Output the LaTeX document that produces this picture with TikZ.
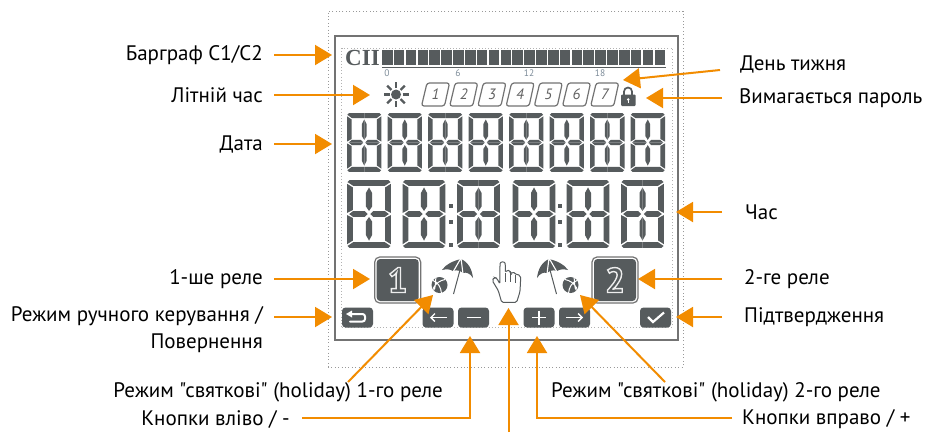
\documentclass[tikz,border=0pt]{standalone}
\usepackage{fontspec}
\setmainfont[Ligatures=TeXOff]{PT Sans}
\newfontfamily\ciifont{Liberation Serif}
\newfontfamily\relayfont[FakeBold=4]{PT Sans Bold}
\usetikzlibrary{arrows.meta,calc}
\definecolor{lcd}{HTML}{565B5D}
\definecolor{org}{HTML}{F28C00}
\definecolor{tick}{HTML}{7D8C99}
\tikzset{
  lab/.style={anchor=east,inner sep=0pt,text=black,font=\fontsize{21}{24}\selectfont},
  labr/.style={anchor=west,inner sep=0pt,text=black,font=\fontsize{21}{24}\selectfont},
  arr/.style={draw=org,line width=2pt,-{Triangle[length=17pt,width=20pt,fill=org]}},
  btn/.style={fill=lcd,rounded corners=3.5pt,minimum width=31pt,minimum height=20pt,inner sep=0pt},
  btnsym/.style={draw=white,line width=1.3pt},
  dots/.style={draw=black!40,line width=1pt,dash pattern=on 1pt off 2.4pt},
  dotsfaint/.style={draw=black!30,line width=0.8pt,dash pattern=on 0.8pt off 2.4pt},
  relay/.style={draw=black!55,line width=1.2pt,fill=white,rounded corners=5pt,minimum size=46pt,inner sep=0pt},
  tickl/.style={text=tick,font=\fontsize{9.5}{11}\selectfont,inner sep=0pt},
  dayl/.style={text=black!62,font=\itshape\fontsize{15}{17}\selectfont,inner sep=0pt},
  relayl/.style={inner sep=0pt,font=\relayfont\fontsize{35}{35}\selectfont},
  zoomed/.style={shift={(320,240)},x=0.3333pt,y=-0.3333pt},
}
\newcommand\relaydigit[1]{\textcolor{lcd}{\special{pdf:code 0.93 0.93 0.93 RG}#1}}
% one LCD digit: x, y, width, height
\newcommand\lcddigit[4]{%
  \begin{scope}[shift={(#1+#3/2,#2+#4/2)},xscale=#3*0.01,yscale=#4*0.01]
    \foreach \sx/\sy in {1/1,-1/1,1/-1,-1/-1}{
      \begin{scope}[xscale=\sx,yscale=\sy]
        \fill[lcd] (0,-50) -- (44,-50) -- (49,-47) -- (36,-41.5) -- (0,-41.5) -- cycle;
        \fill[lcd] (50,-44.5) -- (36.5,-39) -- (36.5,-6) -- (50,-1.5) -- cycle;
        \fill[lcd] (45,0) -- (36,-4.4) -- (10,-4.4) -- (3,0) -- cycle;
        \fill[lcd] (0,-39) -- (7,-31) -- (7,-11) -- (0,-4.5) -- cycle;
      \end{scope}
    }
  \end{scope}}
\newcommand\holidayicon{%
  \fill[lcd] (442,270) .. controls (446,264) and (453,261) .. (461,259)
     .. controls (468,262) and (472,269) .. (473,278)
     .. controls (470,273) and (466,272) .. (463,273)
     .. controls (460,270) and (456,270) .. (453,271)
     .. controls (450,269) and (446,269) .. (442,270) -- cycle;
  \draw[white,line width=1.1pt] (461,258) -- (453,272) (461,258) -- (463,274);
  \draw[lcd,line width=1pt] (460,270) -- (453.5,294);
  \fill[lcd] (439.5,285) circle (8);
  \draw[white,line width=1pt] (433,280.5) .. controls (438,282.5) and (441,287) .. (441.5,293.5)
     (436,277) .. controls (435,282) and (436,288) .. (433.5,290.5)
     (445,279.5) .. controls (440,280.5) and (436,283) .. (433,288.5);}
\begin{document}
\begin{tikzpicture}[x=1pt,y=-1pt]
\useasboundingbox (0,0) rectangle (928,432);
\fill[white] (0,0) rectangle (928,432);
% frames
\node[dots,minimum width=355pt,minimum height=356pt,inner sep=0pt] (outer) at (505.5,189) {};
\node[dotsfaint,minimum width=331pt,minimum height=279pt,inner sep=0pt] (innerd) at (507,187.5) {};
\node[draw=black!55,line width=1.3pt,minimum width=343pt,minimum height=304pt,inner sep=0pt] (frame) at (506.5,188) {};
% bargraph
\node[text=lcd,font=\ciifont\bfseries\fontsize{23}{23}\selectfont,inner sep=0pt] (cii) at (362.5,58) {CII};
\foreach \i in {0,...,23}{
  \fill[lcd] ({382+\i*11.85},49.5) rectangle ({392.6+\i*11.85},64.5);
}
\draw[lcd,line width=1pt] (382,67) -- (666,67);
\node[tickl] (t0) at (387,73.5) {0};
\node[tickl] (t6) at (458,73.5) {6};
\node[tickl] (t12) at (529,73.5) {12};
\node[tickl] (t18) at (600,73.5) {18};
% sun
\fill[lcd] (396,94.5) circle (5);
\foreach \a in {0,45,...,315}{
  \draw[lcd,line width=2.4pt] ($(396,94.5)+(\a:6.5)$) -- ($(396,94.5)+(\a:12.5)$);
}
% days
\foreach \i in {1,...,7}{
  \begin{scope}[shift={({(\i-1)*28.2},0)}]
    \draw[black!55,line width=1.2pt,rounded corners=2.5pt] (427,83) -- (449.5,83) -- (444.5,106) -- (421.5,106) -- cycle;
    \node[dayl] (day\i) at (435.5,94.5) {\i};
  \end{scope}
}
% lock
\draw[lcd,line width=1.7pt] (624,95) -- (624,91.5) arc (180:0:4 and -4) -- (632,95);
\fill[lcd,rounded corners=1pt] (621,94.5) rectangle (635.5,106);
\fill[white] (628.2,99.5) circle (1.3);
\fill[white] (627.6,100) rectangle (628.8,103);
% date digits
\foreach \i in {0,...,7}{ \lcddigit{347+\i*40.5}{113}{34.5}{59} }
% time digits
\lcddigit{347}{180}{44}{68}
\lcddigit{402.5}{180}{43}{68}
\lcddigit{457}{180}{43}{68}
\lcddigit{512.5}{180}{43}{68}
\lcddigit{566.5}{180}{43}{68}
\lcddigit{621}{180}{43}{68}
\foreach \x in {451,560}{
  \foreach \y in {206,222,245}{
    \fill[lcd] (\x-2.3,\y-2.3) rectangle (\x+2.3,\y+2.3);
  }
}
% relays
\node[relay] (r1) at (397.7,280) {};
\node[relay] (r2) at (615,280) {};
\fill[lcd,rounded corners=3.5pt] (r1.south west)++(2.6,-2.6) rectangle ($(r1.north east)+(-2.6,2.6)$);
\fill[lcd,rounded corners=3.5pt] (r2.south west)++(2.6,-2.6) rectangle ($(r2.north east)+(-2.6,2.6)$);
\node[relayl] (one) at (r1) {\relaydigit{1}};
\node[relayl] (two) at (r2) {\relaydigit{2}};
% holiday icons
\holidayicon
\begin{scope}[shift={(1010,0)},xscale=-1]\holidayicon\end{scope}
% hand
\begin{scope}[zoomed]
  \draw[lcd,line width=1pt,fill=white,rounded corners=1.5pt]
    (545,187) -- (535,152) -- (517,122) -- (522,112) -- (530,114) -- (540,132) -- (540,75)
    .. controls (541,64) and (555,64) .. (556,75) -- (556,98)
    .. controls (560,90) and (571,90) .. (572,100) -- (573,102)
    .. controls (578,96) and (586,98) .. (587,106)
    .. controls (592,102) and (601,106) .. (602,116)
    -- (600,155) -- (590,187) -- cycle;
  \draw[lcd,line width=1pt] (556,98) -- (556,126) (572,100) -- (572,126) (587,106) -- (587,128);
\end{scope}
% buttons
\node[btn] (bback) at (357.5,317.5) {};
\node[btn] (bleft) at (438,317.5) {};
\node[btn] (bminus) at (473.5,317.5) {};
\node[btn] (bplus) at (539,317.5) {};
\node[btn] (bright) at (574.5,317.5) {};
\node[btn] (bok) at (655.5,317.5) {};
\draw[btnsym,line width=2pt,line cap=round,rounded corners=2.5pt] (351,314) -- (365,314) -- (365,321.5) -- (350,321.5);
\fill[white] (346,314) -- (352,310.5) -- (352,317.5) -- cycle;
\draw[btnsym,-{Straight Barb[length=4pt,width=8pt]}] (447,317.5) -- (430,317.5);
\draw[btnsym] (466.5,317.5) -- (480.5,317.5);
\draw[btnsym] (532,317.5) -- (546,317.5) (539,310.5) -- (539,324.5);
\draw[btnsym,-{Straight Barb[length=4pt,width=8pt]}] (566,317.5) -- (583,317.5);
\draw[btnsym,line width=2.2pt] (648,317) -- (653,322) -- (664,312.5);
% labels, left column
\node[lab] (lbar) at (263,55) {Барграф C1/C2};
\node[lab] (lsum) at (263,95) {Літній час};
\node[lab] (ldate) at (263,144) {Дата};
\node[lab] (lr1) at (263,279) {1-ше реле};
\node[lab] (lman) at (263,316) {Режим ручного керування /};
\node[lab] (lret) at (263,343) {Повернення};
% labels, right column
\node[labr] (lday) at (740,64) {День тижня};
\node[labr] (lpwd) at (739,98) {Вимагається пароль};
\node[labr] (ltime) at (745,212) {Час};
\node[labr] (lr2) at (744,279) {2-ге реле};
\node[labr] (lok) at (744,317) {Підтвердження};
% labels, bottom
\node[lab] (lh1) at (443,392) {Режим "святкові" (holiday) 1-го реле};
\node[lab] (lbl) at (290,419) {Кнопки вліво / -};
\node[labr] (lh2) at (551,392) {Режим "святкові" (holiday) 2-го реле};
\node[labr] (lbr) at (742,419) {Кнопки вправо / +};
% connector ends
\coordinate (sbar) at (274,55);   \coordinate (tbar) at (332,55);
\coordinate (ssum) at (274,95);   \coordinate (tsum) at (370,95);
\coordinate (sdate) at (274,144); \coordinate (tdate) at (332,144);
\coordinate (sr1) at (274,279);   \coordinate (tr1) at (370,279);
\coordinate (sman) at (274,317);  \coordinate (tman) at (332,317);
\coordinate (stime) at (722,212); \coordinate (ttime) at (676,212);
\coordinate (sr2) at (722,279);   \coordinate (tr2) at (638,279);
\coordinate (sok) at (722,317);   \coordinate (tok) at (676,317);
\coordinate (spwd) at (722,98);   \coordinate (tpwd) at (646,98);
\coordinate (sday) at (720,70);   \coordinate (tday) at (623,80);
\coordinate (sh1) at (348,382);   \coordinate (th1) at (433,295);
\coordinate (sh2) at (665,382);   \coordinate (th2) at (580,295);
\coordinate (sbl) at (302,418);   \coordinate (cbl) at (470,418); \coordinate (tbl) at (470,336);
\coordinate (sbr) at (732,418);   \coordinate (cbr) at (537,418); \coordinate (tbr) at (537,336);
\coordinate (shand) at (508.5,432); \coordinate (thand) at (508.5,308);
\foreach \n in {bar,sum,date,r1,man,time,r2,ok,pwd,day,h1,h2,hand}{
  \draw[arr] (s\n) -- (t\n);
}
\draw[arr] (sbl) -- (cbl) -- (tbl);
\draw[arr] (sbr) -- (cbr) -- (tbr);
\end{tikzpicture}
\end{document}
